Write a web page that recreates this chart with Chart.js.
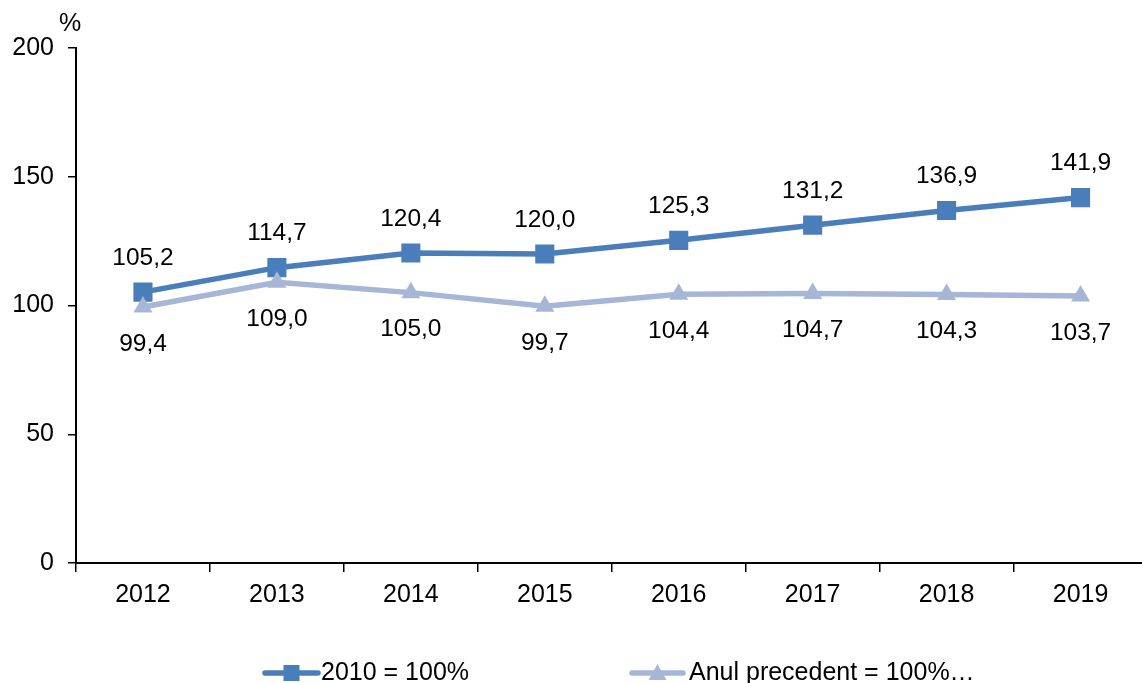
<!DOCTYPE html>
<html>
<head>
<meta charset="utf-8">
<script src="https://cdn.jsdelivr.net/npm/chart.js@4/dist/chart.umd.min.js"></script>
<style>
  html, body { margin: 0; padding: 0; background: #fff; overflow: hidden; width: 1142px; height: 683px; }
  #wrap { width: 1161px; height: 683px; position: relative; }
</style>
</head>
<body>
<div id="wrap"><canvas id="c" width="1161" height="683"></canvas></div>
<script>
const categories = ['2012', '2013', '2014', '2015', '2016', '2017', '2018', '2019'];
const base2010 = [105.2, 114.7, 120.4, 120.0, 125.3, 131.2, 136.9, 141.9];
const prevYear = [99.4, 109.0, 105.0, 99.7, 104.4, 104.7, 104.3, 103.7];
const seriesNames = ['2010 = 100%', 'Anul precedent = 100%…'];
const yTicks = [0, 50, 100, 150, 200];
const yUnit = '%';

const C1 = '#4A7EBB';
const C2 = '#A6B6D7';
const FONT = 'Liberation Sans, Arial, sans-serif';

const labelPlugin = {
  id: 'valueLabels',
  afterDatasetsDraw(chart) {
    const ctx = chart.ctx;
    ctx.save();
    ctx.font = '24.5px ' + FONT;
    ctx.fillStyle = '#000';
    ctx.textAlign = 'center';
    ctx.textBaseline = 'middle';
    chart.data.datasets.forEach((ds, di) => {
      const meta = chart.getDatasetMeta(di);
      const off = di === 0 ? -34 : 37;
      meta.data.forEach((el, i) => {
        const txt = ds.data[i].toFixed(1).replace('.', ',');
        ctx.fillText(txt, el.x, el.y + off);
      });
    });
    ctx.restore();
  }
};

const extrasPlugin = {
  id: 'extras',
  afterDraw(chart) {
    const ctx = chart.ctx;
    ctx.save();
    ctx.font = '25px ' + FONT;
    ctx.fillStyle = '#000';
    ctx.textAlign = 'center';
    ctx.textBaseline = 'middle';
    ctx.fillText(yUnit, 70, 24);
    const y = 673;
    const items = [
      { x: 265, w: 53, color: C1, shape: 'rect', text: seriesNames[0], tx: 321 },
      { x: 632, w: 51, color: C2, shape: 'tri', text: seriesNames[1], tx: 689 }
    ];
    items.forEach(it => {
      ctx.strokeStyle = it.color;
      ctx.lineWidth = 5.5;
      ctx.lineCap = 'round';
      ctx.beginPath();
      ctx.moveTo(it.x, y);
      ctx.lineTo(it.x + it.w, y);
      ctx.stroke();
      ctx.fillStyle = it.color;
      const cx = it.x + it.w / 2;
      if (it.shape === 'rect') {
        ctx.fillRect(cx - 8, y - 8, 16, 16);
      } else {
        ctx.beginPath();
        ctx.moveTo(cx, y - 9);
        ctx.lineTo(cx + 9, y + 7);
        ctx.lineTo(cx - 9, y + 7);
        ctx.closePath();
        ctx.fill();
      }
      ctx.fillStyle = '#000';
      ctx.textAlign = 'left';
      ctx.font = '25px ' + FONT;
      ctx.fillText(it.text, it.tx, y);
    });
    ctx.restore();
  }
};

new Chart(document.getElementById('c'), {
  type: 'line',
  data: {
    labels: categories,
    datasets: [
      {
        label: seriesNames[0],
        data: base2010,
        borderColor: C1,
        backgroundColor: C1,
        borderWidth: 5.5,
        pointStyle: 'rect',
        pointRadius: 13.5,
        pointBorderWidth: 0,
        pointBackgroundColor: C1,
        tension: 0,
        order: 1
      },
      {
        label: seriesNames[1],
        data: prevYear,
        borderColor: C2,
        backgroundColor: C2,
        borderWidth: 5.5,
        pointStyle: 'triangle',
        pointRadius: 11,
        pointBorderWidth: 0,
        pointBackgroundColor: C2,
        tension: 0,
        order: 0
      }
    ]
  },
  options: {
    responsive: false,
    animation: false,
    devicePixelRatio: 1,
    layout: { padding: { top: 48, left: 0, right: 0, bottom: 0 } },
    plugins: { legend: { display: false }, tooltip: { enabled: false } },
    scales: {
      x: {
        type: 'category',
        offset: true,
        grid: { offset: true, drawOnChartArea: false, drawTicks: true, tickLength: 9, color: '#000', lineWidth: 1.5 },
        border: { color: '#000', width: 2 },
        ticks: { color: '#000', font: { family: FONT, size: 25 }, padding: 8, maxRotation: 0 },
        afterFit(s) { s.height = 120; s.paddingRight = 0; s.paddingLeft = 0; }
      },
      y: {
        min: 0, max: 200,
        afterBuildTicks(s) { s.ticks = yTicks.map(v => ({ value: v })); },
        grid: { drawOnChartArea: false, drawTicks: true, tickLength: 8, color: '#000', lineWidth: 1.5 },
        border: { color: '#000', width: 2 },
        ticks: { color: '#000', font: { family: FONT, size: 25 }, padding: 14 },
        afterFit(s) { s.width = 76; }
      }
    }
  },
  plugins: [labelPlugin, extrasPlugin]
});
</script>
</body>
</html>
